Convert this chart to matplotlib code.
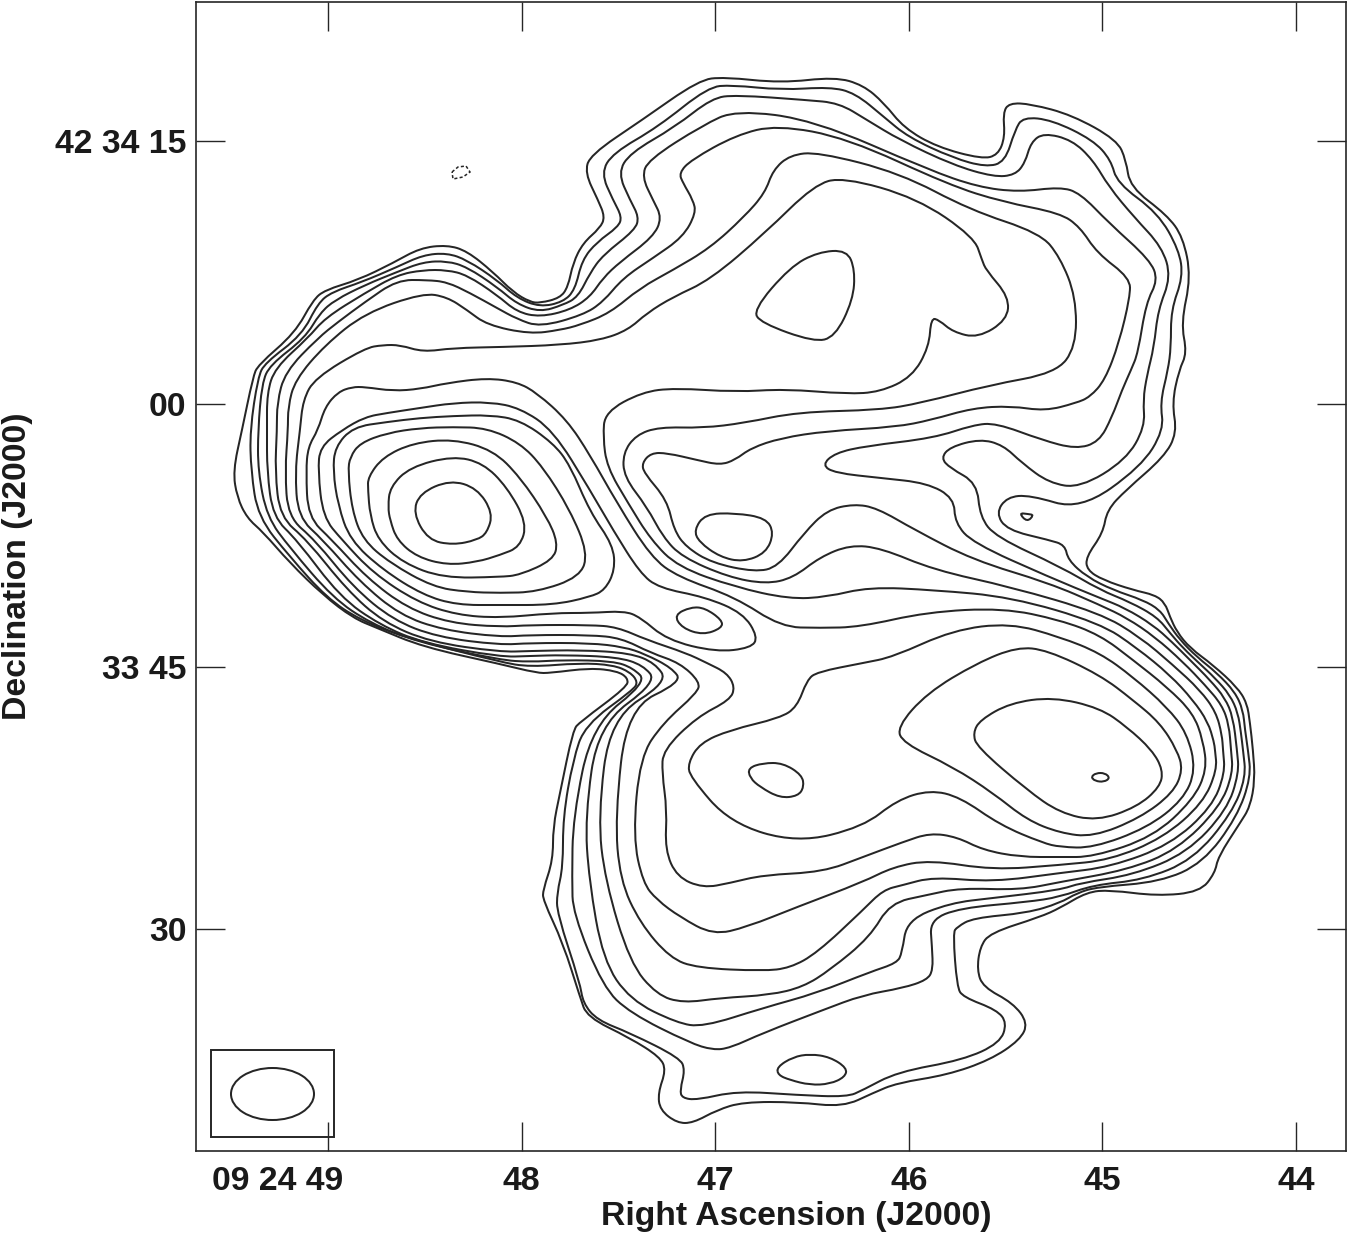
import matplotlib
matplotlib.use("Agg")
import matplotlib.pyplot as plt
import numpy as np
from matplotlib.path import Path
from matplotlib.patches import PathPatch, Ellipse, Rectangle
from matplotlib.transforms import ScaledTranslation

# contour vertices, as map grid (column, row)
c1 = [(233,471),(242,430),(253,377),(258,365),(295,333),(313,300),(325,290),(358,280),(393,263),(420,248),(447,245),(467,251),(493,272),(513,292),(530,302),(540,303),(560,298),(568,287),(573,263),(583,243),(600,228),(605,217),(598,200),(585,173),(590,155),(642,120),(699,80),(724,77),(781,83),(835,77),(863,85),(884,103),(904,128),(937,147),(982,159),(998,155),(1005,137),(1003,113),(1009,103),(1031,104),(1072,115),(1117,140),(1126,160),(1130,187),(1167,215),(1183,237),(1191,277),(1181,323),(1187,353),(1179,370),(1172,403),(1177,433),(1164,457),(1126,490),(1107,510),(1103,533),(1086,557),(1087,570),(1103,580),(1133,590),(1155,595),(1165,603),(1170,617),(1177,632),(1190,648),(1213,665),(1237,687),(1247,703),(1250,723),(1253,750),(1255,780),(1250,807),(1240,823),(1218,857),(1215,873),(1200,892),(1157,896),(1110,890),(1087,892),(1060,908),(1040,917),(990,933),(980,947),(977,970),(983,987),(1013,1003),(1028,1023),(1020,1040),(990,1060),(947,1075),(897,1083),(873,1093),(843,1107),(797,1102),(743,1102),(717,1110),(693,1123),(677,1123),(660,1110),(658,1093),(666,1070),(660,1057),(630,1038),(587,1017),(580,997),(563,943),(543,900),(543,890),(553,860),(553,827),(560,793),(573,730),(580,722),(627,687),(628,678),(617,671),(590,668),(550,673),(537,673),(500,664),(423,647),(377,628),(353,618),(323,595),(290,563),(263,532),(247,518),(237,497)]
c2 = [(251,471),(250,430),(258,377),(265,363),(302,335),(318,303),(332,292),(362,282),(397,267),(423,255),(447,253),(467,260),(497,280),(517,298),(540,307),(563,302),(575,290),(582,260),(597,242),(618,227),(622,217),(613,200),(601,173),(613,153),(658,127),(708,87),(732,85),(781,90),(830,87),(855,93),(884,117),(908,137),(953,158),(986,167),(1005,162),(1015,130),(1023,117),(1052,120),(1093,140),(1111,160),(1117,183),(1158,213),(1179,250),(1183,277),(1171,310),(1171,347),(1168,370),(1160,403),(1164,430),(1141,467),(1080,510),(1030,495),(1007,497),(996,513),(1007,530),(1049,540),(1065,545),(1068,560),(1087,577),(1113,590),(1143,600),(1160,610),(1168,623),(1180,640),(1197,657),(1217,673),(1235,692),(1243,710),(1245,730),(1248,750),(1251,777),(1237,817),(1203,863),(1160,882),(1097,887),(1077,893),(1060,903),(1027,913),(973,918),(957,927),(953,933),(957,987),(963,997),(997,1010),(1007,1023),(1000,1043),(963,1060),(897,1072),(863,1090),(847,1097),(797,1095),(737,1091),(697,1100),(682,1098),(680,1090),(685,1070),(680,1058),(630,1033),(597,1020),(583,1003),(580,983),(557,913),(557,893),(563,867),(563,817),(573,760),(585,725),(633,690),(638,682),(630,672),(613,665),(580,663),(530,667),(500,662),(407,638),(360,620),(327,598),(290,557),(258,517)]
c3 = [(258,471),(258,430),(262,383),(270,365),(305,338),(320,313),(335,300),(365,285),(397,272),(423,262),(447,261),(467,267),(497,287),(517,304),(540,312),(563,305),(578,297),(590,273),(603,255),(635,230),(639,217),(630,200),(618,173),(630,153),(675,127),(712,98),(736,95),(806,100),(839,103),(867,120),(900,140),(953,165),(994,177),(1015,175),(1025,163),(1031,142),(1044,133),(1072,140),(1093,160),(1109,187),(1134,217),(1162,247),(1171,277),(1158,310),(1154,347),(1147,375),(1143,400),(1145,427),(1126,460),(1080,488),(1049,483),(1022,463),(1003,445),(980,439),(950,447),(941,458),(950,468),(977,483),(980,517),(996,537),(1061,567),(1100,590),(1130,602),(1157,617),(1170,633),(1183,648),(1200,664),(1215,678),(1230,695),(1238,713),(1241,733),(1243,750),(1246,777),(1232,813),(1193,860),(1143,880),(1093,885),(1060,897),(1027,902),(960,908),(930,920),(932,947),(933,970),(927,980),(903,988),(863,995),(823,1010),(763,1033),(730,1048),(713,1050),(690,1043),(630,1013),(603,987),(573,913),(572,880),(573,817),(592,725),(647,682),(633,668),(613,661),(563,660),(530,662),(500,660),(417,642),(370,623),(333,598),(290,548),(267,517)]
c4 = [(267,471),(267,430),(267,393),(275,368),(308,338),(325,318),(365,293),(397,275),(423,270),(447,270),(467,275),(497,295),(517,312),(540,317),(570,310),(590,297),(603,278),(620,262),(653,237),(662,218),(653,200),(642,177),(648,160),(703,125),(736,110),(814,120),(929,170),(978,187),(1019,192),(1060,187),(1080,193),(1109,223),(1150,260),(1158,280),(1146,303),(1138,353),(1131,370),(1122,390),(1112,417),(1099,442),(1076,449),(1042,440),(996,423),(973,425),(934,438),(866,446),(835,453),(822,465),(835,473),(881,478),(927,483),(954,498),(955,523),(973,543),(1049,577),(1100,598),(1125,608),(1153,625),(1172,642),(1190,660),(1210,680),(1225,698),(1233,717),(1237,750),(1239,773),(1227,810),(1187,853),(1133,875),(1080,883),(1060,890),(993,898),(950,903),(907,920),(902,953),(897,963),(870,972),(817,993),(763,1008),(703,1027),(677,1023),(630,1000),(603,960),(589,880),(585,817),(598,725),(657,682),(643,665),(617,657),(563,655),(530,656),(500,657),(423,643),(380,625),(340,597),(297,540),(273,517)]
c5 = [(275,471),(277,430),(277,403),(285,372),(318,338),(338,322),(365,302),(397,280),(427,280),(447,282),(470,293),(497,308),(517,319),(540,327),(583,315),(603,302),(623,278),(653,258),(683,237),(696,213),(693,200),(683,183),(679,173),(691,160),(736,135),(777,125),(847,138),(949,185),(1003,202),(1060,213),(1080,227),(1097,253),(1130,278),(1130,297),(1119,343),(1105,380),(1090,397),(1076,403),(1045,411),(1011,406),(973,408),(931,420),(896,427),(827,431),(781,438),(751,448),(735,460),(720,465),(697,460),(667,453),(651,453),(642,463),(644,473),(667,500),(674,530),(686,547),(712,563),(755,572),(778,567),(804,533),(827,510),(854,504),(877,508),(915,530),(973,560),(1049,583),(1100,605),(1127,618),(1155,637),(1183,662),(1205,685),(1222,705),(1229,725),(1231,750),(1233,773),(1220,807),(1177,850),(1127,870),(1060,882),(1020,890),(960,888),(927,895),(890,903),(870,937),(830,970),(803,987),(770,995),(720,998),(683,1003),(657,995),(630,963),(605,880),(598,817),(610,718),(668,682),(655,663),(630,653),(580,650),(530,651),(500,652),(430,642),(383,622),(347,590),(307,540),(280,517)]
c6 = [(285,471),(288,430),(288,407),(295,380),(325,345),(365,313),(423,293),(447,297),(467,310),(487,325),(530,334),(560,330),(580,325),(610,313),(640,288),(673,270),(710,248),(744,217),(765,193),(773,170),(790,155),(818,152),(900,173),(970,210),(1040,233),(1060,257),(1076,297),(1076,347),(1056,373),(990,385),(921,403),(880,410),(798,412),(744,423),(703,428),(659,427),(636,435),(623,453),(624,477),(647,507),(663,537),(682,557),(728,577),(766,584),(793,578),(820,557),(850,545),(881,548),(934,570),(1011,587),(1100,613),(1140,637),(1173,665),(1200,690),(1216,712),(1222,735),(1223,750),(1225,773),(1212,807),(1170,845),(1110,867),(1060,873),(993,882),(933,877),(903,885),(883,890),(863,910),(817,953),(790,968),(763,971),(697,968),(670,958),(640,923),(620,880),(615,817),(627,708),(682,682),(672,668),(645,654),(624,647),(590,643),(530,643),(500,645),(437,637),(393,620),(353,587),(315,540),(288,517)]
c7 = [(295,471),(300,430),(303,400),(315,378),(365,348),(383,345),(400,345),(423,352),(453,348),(503,347),(560,345),(601,340),(628,330),(647,313),(673,297),(710,280),(765,233),(814,185),(843,177),(917,198),(974,237),(982,260),(986,270),(1009,297),(1007,320),(978,338),(953,332),(939,320),(931,318),(929,347),(912,377),(880,392),(847,394),(785,389),(736,392),(675,388),(642,392),(605,412),(603,437),(607,467),(628,503),(651,540),(678,567),(735,587),(789,599),(827,597),(869,587),(934,590),(1011,597),(1100,623),(1137,648),(1170,675),(1193,700),(1208,722),(1214,742),(1215,750),(1217,770),(1203,803),(1163,838),(1110,860),(1060,865),(993,870),(930,860),(893,867),(863,882),(797,907),(747,927),(713,935),(680,917),(657,900),(643,883),(633,837),(640,757),(663,723),(697,693),(700,682),(680,663),(651,653),(621,638),(590,635),(530,635),(500,637),(443,630),(400,615),(360,582),(323,540),(298,517)]
c8 = [(306,471),(308,447),(318,430),(325,407),(338,392),(352,387),(365,387),(393,391),(420,389),(447,383),(487,378),(517,382),(537,393),(567,420),(590,455),(617,503),(651,557),(678,577),(735,597),(781,627),(820,628),(860,627),(927,612),(1003,608),(1060,620),(1100,635),(1133,660),(1167,687),(1193,713),(1203,740),(1207,770),(1193,800),(1153,837),(1093,857),(1060,857),(1020,857),(983,850),(957,837),(930,833),(903,842),(863,857),(823,872),(763,875),(730,883),(703,888),(677,877),(665,850),(667,810),(662,773),(663,750),(697,717),(730,700),(735,687),(727,673),(707,663),(686,653),(647,640),(617,627),(590,625),(530,625),(500,627),(450,623),(407,608),(367,578),(332,540),(308,517)]
c9 = [(318,471),(320,447),(342,430),(365,417),(387,413),(420,408),(453,403),(490,402),(520,408),(553,430),(590,490),(613,530),(640,573),(659,588),(705,597),(743,613),(758,637),(751,648),(716,652),(667,640),(640,617),(624,611),(590,613),(553,613),(500,618),(457,615),(417,602),(373,573),(342,540),(323,517)]
c10 = [(333,471),(335,447),(353,427),(387,422),(420,418),(453,416),(490,415),(520,420),(553,443),(570,465),(590,512),(613,545),(615,570),(605,590),(590,597),(553,605),(500,605),(457,605),(423,595),(383,570),(350,540),(338,505)]
c11 = [(348,471),(350,457),(360,443),(387,433),(420,428),(453,427),(487,428),(520,443),(543,467),(570,510),(588,553),(580,577),(537,592),(500,593),(467,592),(433,587),(390,563),(363,540),(352,510)]
c12 = [(368,490),(368,477),(383,457),(413,443),(453,439),(493,450),(520,477),(547,517),(558,543),(553,560),(520,575),(500,577),(443,578),(403,563),(378,540),(370,515)]
c13 = [(388,507),(390,487),(410,467),(453,456),(483,463),(507,487),(527,523),(520,547),(500,555),(477,562),(447,565),(417,557),(397,540),(390,520)]
c14 = [(413,513),(420,493),(450,480),(477,488),(493,513),(487,533),(477,540),(453,545),(428,540)]
peak_neck = [(674,615),(691,607),(705,608),(722,620),(722,628),(703,635),(682,628)]
peak_north = [(753,310),(790,267),(818,252),(847,250),(855,270),(853,300),(835,337),(814,342),(761,323)]
peak_mid = [(694,530),(705,514),(735,513),(766,518),(774,533),(766,553),(743,562),(720,557),(699,542)]
peak_south = [(777,1067),(793,1057),(810,1054),(830,1057),(847,1068),(845,1077),(830,1084),(810,1085),(790,1080),(778,1075)]
se_outer = [(688,763),(700,743),(730,730),(780,718),(797,707),(807,680),(817,672),(863,663),(893,657),(953,630),(1010,623),(1060,637),(1100,653),(1133,677),(1167,707),(1187,733),(1196,770),(1183,800),(1147,828),(1093,848),(1060,847),(1043,843),(1000,825),(960,797),(930,790),(897,800),(863,827),(797,843),(730,823),(690,777)]
se_small = [(748,768),(763,763),(783,763),(802,775),(804,787),(798,796),(780,798),(760,787),(750,778)]
se_mid = [(897,727),(903,743),(953,767),(993,793),(1027,820),(1060,833),(1093,837),(1140,818),(1173,793),(1183,770),(1177,750),(1160,723),(1133,700),(1100,675),(1047,650),(1017,647),(977,663),(927,693)]
se_inner = [(973,733),(977,747),(1027,790),(1060,813),(1097,821),(1137,807),(1160,787),(1163,770),(1152,750),(1127,727),(1100,708),(1053,697),(1010,703),(980,720)]
spot_se = [(1091,777),(1096,773),(1105,773),(1110,778),(1104,782),(1095,781)]
spot_ne = [(1019,513),(1028,514),(1034,515),(1027,522)]
negative = [(452,172),(458,167),(466,166),(470,172),(463,177),(453,179)]

solid_levels = [c1, c2, c3, c4, c5, c6, c7, c8, c9, c10, c11, c12, c13, c14,
                peak_neck, peak_north, peak_mid, peak_south,
                se_outer, se_small, se_mid, se_inner, spot_se, spot_ne]

ra_ticks = [49, 48, 47, 46, 45, 44]
ra_labels = ["09 24 49", "48", "47", "46", "45", "44"]
dec_ticks = [15, 0, -15, -30]
dec_labels = ["42 34 15", "00", "33 45", "30"]

# beam plot box and beam, in the same grid
beam_box = (211, 1050, 334, 1137)
beam_center = (272.5, 1094)
beam_size = (83, 52)

# map grid -> sky: RA in seconds after 09 24, Dec in arcsec from 42 34 00
RA_REF, DEC_REF = 328.0, 404.0
RA_STEP = 193.6
DEC_STEP = 262.67 / 15.0


def to_sky(pts):
    a = np.asarray(pts, dtype=float)
    return np.column_stack([49.0 - (a[:, 0] - RA_REF) / RA_STEP, -(a[:, 1] - DEC_REF) / DEC_STEP])


def smooth_path(pts):
    # closed quadratic spline with the read vertices as control points
    p = to_sky(pts)
    mid = (p + np.roll(p, -1, axis=0)) / 2
    verts = [mid[-1]]
    codes = [Path.MOVETO]
    for i in range(len(p)):
        verts += [p[i], mid[i]]
        codes += [Path.CURVE3, Path.CURVE3]
    return Path(verts, codes)


plt.rcParams["font.family"] = ["Liberation Sans", "DejaVu Sans"]
plt.rcParams["font.weight"] = "bold"

W, H = 1350, 1235
fig = plt.figure(figsize=(W / 100, H / 100), dpi=100)
ax = fig.add_axes([196 / W, (H - 1151) / H, 1150 / W, 1149 / H])

ink = "#262626"
for pts in solid_levels:
    ax.add_patch(PathPatch(smooth_path(pts), fill=False, ec=ink, lw=1.45))
ax.add_patch(PathPatch(Path(to_sky(negative + negative[:1])), fill=False, ec=ink, lw=1.1, ls=(0, (2, 1.5))))

lo = to_sky([beam_box[:2]])[0]
hi = to_sky([beam_box[2:]])[0]
ax.add_patch(Rectangle(lo, hi[0] - lo[0], hi[1] - lo[1], fill=False, ec=ink, lw=1.4))
ax.add_patch(Ellipse(to_sky([beam_center])[0], beam_size[0] / RA_STEP, beam_size[1] / DEC_STEP, fill=False, ec=ink, lw=1.45))

ax.set_xlim(*to_sky([(196, 0), (1346, 0)])[:, 0])
ax.set_ylim(*to_sky([(0, 1151), (0, 2)])[:, 1])
ax.set_xticks(ra_ticks)
ax.set_xticklabels(ra_labels)
ax.set_yticks(dec_ticks)
ax.set_yticklabels(dec_labels)
ax.tick_params(direction="in", top=True, right=True, length=21, width=1.0, color=ink, labelsize=24.3, labelcolor="#1a1a1a")
ax.tick_params(axis="x", pad=11)
ax.tick_params(axis="y", pad=7)
for s in ax.spines.values():
    s.set_linewidth(1.2)
    s.set_color(ink)

first = ax.get_xticklabels()[0]
first.set_ha("right")
first.set_transform(first.get_transform() + ScaledTranslation(15 / 100, 0, fig.dpi_scale_trans))

fig.text(796 / W, 1 - 1216 / H, "Right Ascension (J2000)", ha="center", va="center", fontsize=24.3, color="#1a1a1a")
fig.text(18 / W, 1 - 566 / H, "Declination (J2000)", ha="center", va="center", rotation=90, fontsize=24.3, color="#1a1a1a")

fig.savefig("out.png", dpi=100)
